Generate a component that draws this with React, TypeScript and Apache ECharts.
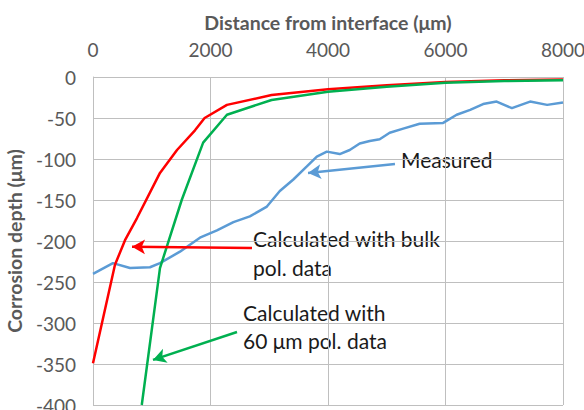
import React, { useEffect, useRef } from "react";
import * as echarts from "echarts";

const xTicks = [0, 2000, 4000, 6000, 8000];
const yTicks = [0, -50, -100, -150, -200, -250, -300, -350, -400];

const bulkX = [0, 374, 545, 749, 1140, 1430, 1736, 1900, 2280, 3040, 4000, 5000, 6000, 7000, 8000];
const bulkY = [-349, -229, -199, -172, -117, -89, -65, -50, -34, -22, -15, -10, -6, -4, -3];

const microX = [830, 1140, 1510, 1875, 2280, 3040, 4000, 5000, 6000, 7000, 8000];
const microY = [-400, -233, -150, -80, -46, -28, -18, -12, -7, -5, -4];

const measX = [0, 340, 630, 970, 1140, 1480, 1820, 2110, 2390, 2670, 2960, 3180, 3410, 3640, 3810, 3980, 4200, 4370, 4540, 4710, 4880, 5050, 5280, 5560, 5960, 6190, 6420, 6640, 6870, 7130, 7440, 7730, 8000];
const measY = [-240, -227, -233, -232, -227, -213, -196, -187, -177, -170, -158, -139, -125, -109, -97, -91, -94, -89, -81, -78, -76, -68, -63, -57, -56, -46, -40, -33, -30, -38, -30, -34, -31];

const zip = (xs: number[], ys: number[]) => xs.map((x, i) => [x, ys[i]]);

const FONT = "Lato, 'Noto Sans', sans-serif";
const GRID_COLOR = "#bfbfbf";

export default function App() {
  const ref = useRef<HTMLDivElement>(null);
  useEffect(() => {
    document.body.style.margin = "0";
    const chart = echarts.init(ref.current!, null, { renderer: "svg" });
    const arrow = (color: string, from: number[], to: number[]) => ({
      silent: true,
      symbol: ["none", "arrow"],
      symbolSize: [11, 13],
      label: { show: false },
      lineStyle: { color, width: 2.5, type: "solid" },
      data: [[{ coord: from }, { coord: to }]],
    });
    chart.setOption({
      animation: false,
      backgroundColor: "#ffffff",
      textStyle: { fontFamily: FONT },
      grid: { left: 93, right: 21, top: 77, bottom: 5, containLabel: false, outerBoundsMode: "none" },
      xAxis: {
        type: "value",
        position: "top",
        min: xTicks[0],
        max: xTicks[xTicks.length - 1],
        interval: 2000,
        name: "Distance from interface (μm)",
        nameLocation: "middle",
        nameGap: 45,
        nameTextStyle: { color: "#595959", fontSize: 19.5, fontWeight: "bold", fontFamily: FONT },
        axisLine: { show: false },
        axisTick: { show: false },
        axisLabel: { color: "#595959", fontSize: 19, margin: 18, fontFamily: FONT, formatter: (v: number) => String(v) },
        splitLine: { show: true, lineStyle: { color: GRID_COLOR, width: 1 } },
      },
      yAxis: {
        type: "value",
        min: yTicks[yTicks.length - 1],
        max: yTicks[0],
        interval: 50,
        name: "Corrosion depth (μm)",
        nameLocation: "middle",
        nameGap: 66,
        nameRotate: 90,
        nameTextStyle: { color: "#595959", fontSize: 19.5, fontWeight: "bold", fontFamily: FONT },
        axisLine: { show: true, lineStyle: { color: GRID_COLOR, width: 1 } },
        axisTick: { show: false },
        axisLabel: { color: "#595959", fontSize: 19, margin: 17, fontFamily: FONT, formatter: (v: number) => String(v) },
        splitLine: { show: true, lineStyle: { color: GRID_COLOR, width: 1 } },
      },
      series: [
        {
          name: "Measured",
          type: "line",
          data: zip(measX, measY),
          showSymbol: false,
          symbol: "none",
          lineStyle: { color: "#5b9bd5", width: 2.5 },
          markLine: arrow("#5b9bd5", [5140, -106], [3660, -117]),
        },
        {
          name: "Calculated with bulk pol. data",
          type: "line",
          data: zip(bulkX, bulkY),
          showSymbol: false,
          symbol: "none",
          lineStyle: { color: "#ff0000", width: 2.5 },
          markLine: arrow("#ff0000", [2706, -208.5], [664, -207]),
        },
        {
          name: "Calculated with 60 μm pol. data",
          type: "line",
          data: zip(microX, microY),
          showSymbol: false,
          symbol: "none",
          lineStyle: { color: "#00b050", width: 2.5 },
          markLine: arrow("#00b050", [2451, -311], [1021, -345]),
        },
      ],
      graphic: [
        {
          type: "text",
          x: 401,
          y: 159,
          style: { text: "Measured", fill: "#1a1a1a", fontSize: 21, fontFamily: FONT, verticalAlign: "middle" },
        },
        {
          type: "text",
          x: 253,
          y: 223.5,
          style: { text: "Calculated with bulk\npol. data", fill: "#1a1a1a", fontSize: 21, lineHeight: 29, fontFamily: FONT, verticalAlign: "top" },
        },
        {
          type: "text",
          x: 243,
          y: 298.5,
          style: { text: "Calculated with\n60 μm pol. data", fill: "#1a1a1a", fontSize: 21, lineHeight: 28, fontFamily: FONT, verticalAlign: "top" },
        },
      ],
    });
    return () => chart.dispose();
  }, []);
  return <div ref={ref} style={{ width: 584, height: 410 }} />;
}
